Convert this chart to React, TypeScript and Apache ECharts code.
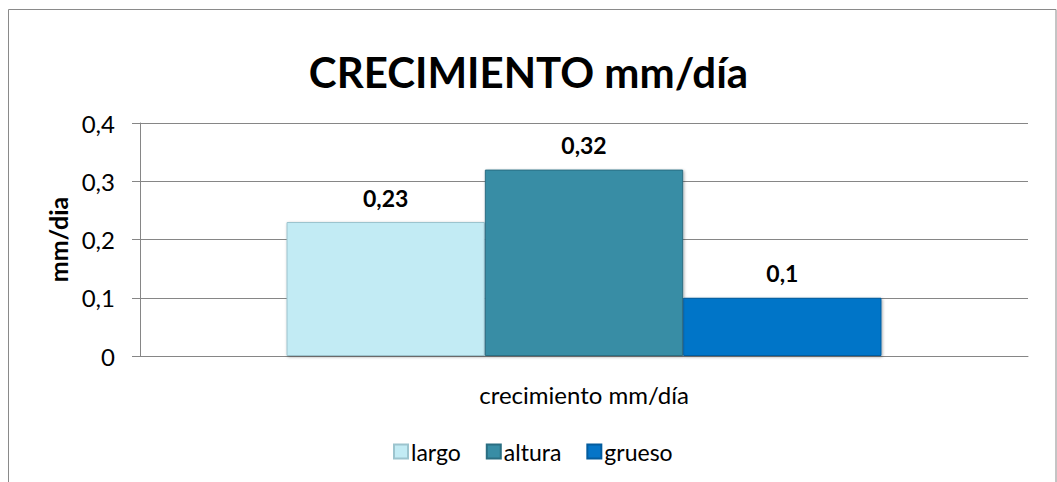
import React, { useEffect, useRef } from "react";
import * as echarts from "echarts";

const categories = ["crecimiento mm/día"];
const seriesNames = ["largo", "altura", "grueso"];
const largo = [0.23];
const altura = [0.32];
const grueso = [0.1];
const colors = ["#C2EBF4", "#388DA5", "#0575C8"];
const borders = ["#9CC4CE", "#2A6E82", "#045C9E"];
const yTicks = { min: 0, max: 0.4, interval: 0.1 };

const FONT = "Lato, 'Open Sans', sans-serif";

export default function App() {
  const ref = useRef<HTMLDivElement>(null);
  useEffect(() => {
    if (!ref.current) return;
    const chart = echarts.init(ref.current, null, { renderer: "svg" });
    const values = [largo, altura, grueso];
    chart.setOption({
      animation: false,
      backgroundColor: "#ffffff",
      textStyle: { fontFamily: FONT },
      title: {
        text: "CRECIMIENTO mm/día",
        left: "center",
        top: 46,
        textStyle: { fontFamily: FONT, fontSize: 42, fontWeight: "bold", color: "#000" },
      },
      graphic: [
        {
          type: "rect",
          shape: { x: 8.5, y: 9.5, width: 1047.5, height: 520 },
          style: { fill: "none", stroke: "#8a8a8a", lineWidth: 1 },
          silent: true,
          z: 100,
        },
      ],
      grid: { left: 140, right: 29, top: 123, bottom: 126, containLabel: false },
      legend: {
        data: seriesNames,
        left: 393,
        top: 440,
        padding: 0,
        itemWidth: 14,
        itemHeight: 14,
        itemGap: 25,
        icon: "rect",
        textStyle: { fontFamily: FONT, fontSize: 23, color: "#000", padding: [0, 0, 0, -2] },
      },
      xAxis: {
        type: "category",
        data: categories,
        axisLine: { show: true, lineStyle: { color: "#868686", width: 1 } },
        axisTick: { show: false },
        axisLabel: { fontFamily: FONT, fontSize: 24, color: "#000", margin: 26 },
      },
      yAxis: {
        type: "value",
        min: yTicks.min,
        max: yTicks.max,
        interval: yTicks.interval,
        name: "mm/dia",
        nameLocation: "middle",
        nameGap: 69,
        nameTextStyle: { fontFamily: FONT, fontSize: 25, fontWeight: "bold", color: "#000" },
        axisLine: { show: true, lineStyle: { color: "#868686", width: 1 } },
        axisTick: { show: true, length: 8, lineStyle: { color: "#868686" } },
        splitLine: { show: true, lineStyle: { color: "#868686", width: 1 } },
        axisLabel: {
          fontFamily: FONT,
          fontSize: 24,
          color: "#000",
          margin: 25,
          formatter: (v: number) => String(Math.round(v * 10) / 10).replace(".", ","),
        },
      },
      series: seriesNames.map((name, i) => ({
        name,
        type: "bar",
        data: values[i],
        barGap: "0%",
        barCategoryGap: "33%",
        itemStyle: {
          color: colors[i],
          borderColor: borders[i],
          borderWidth: 1,
          shadowColor: "rgba(0,0,0,0.35)",
          shadowBlur: 3,
          shadowOffsetX: 1,
          shadowOffsetY: 1,
        },
        label: {
          show: true,
          position: "top",
          distance: 13,
          fontFamily: FONT,
          fontSize: 23,
          fontWeight: "bold",
          color: "#000",
          formatter: (p: any) => String(p.value).replace(".", ","),
        },
      })),
    });
    return () => chart.dispose();
  }, []);
  return (
    <div
      ref={ref}
      style={{ position: "fixed", left: 0, top: 0, width: 1057, height: 482 }}
    />
  );
}
